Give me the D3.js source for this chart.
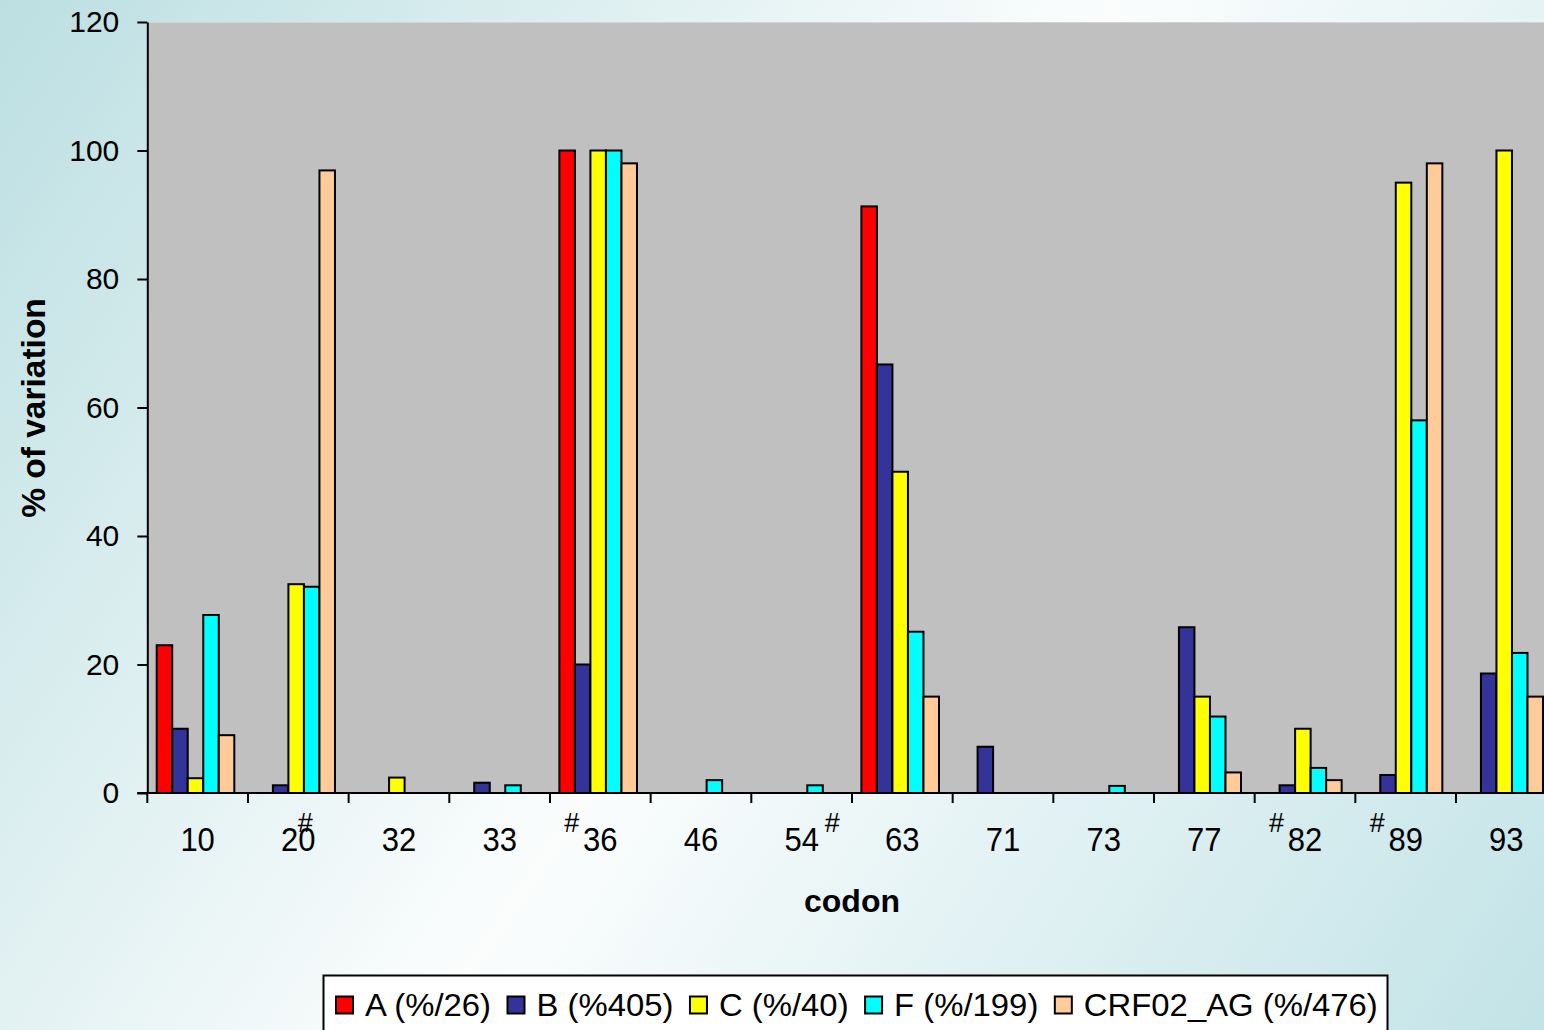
<!DOCTYPE html>
<html>
<head>
<meta charset="utf-8">
<script src="https://cdn.jsdelivr.net/npm/d3@7"></script>
<style>
html,body{margin:0;padding:0;overflow:hidden;}
svg{display:block;}
text{font-family:Arial,"Liberation Sans",sans-serif;fill:#000;}
</style>
</head>
<body>
<svg id="chart" width="1544" height="1030"></svg>
<script>
// ---- data ----
const categories = ["10","20","32","33","36","46","54","63","71","73","77","82","89","93"];
const seriesNames = ["A (%/26)","B (%405)","C (%/40)","F (%/199)","CRF02_AG (%/476)"];
const seriesColors = ["#ff0000","#333399","#ffff00","#00ffff","#ffcc99"];
const valuesA   = [23,   null, null, null, 100, null, null, 91.3, null, null, null, null, null, null];
const valuesB   = [10,   1.2,  null, 1.6,  20,  null, null, 66.7, 7.2,  null, 25.8, 1.2,  2.8,  18.6];
const valuesC   = [2.3,  32.5, 2.4,  null, 100, null, null, 50,   null, null, 15,   10,   95,   100];
const valuesF   = [27.7, 32.1, null, 1.2,  100, 2.0,  1.2,  25.1, null, 1.1,  11.9, 3.9,  58,   21.8];
const valuesCRF = [9,    96.9, null, null, 98,  null, null, 15,   null, null, 3.2,  2.0,  98,   15];
const yTicks = [0,20,40,60,80,100,120];
// codons flagged with "#" and where the mark sits relative to the label
const hashNotes = [
  {codon:"20", side:"top"},
  {codon:"36", side:"left"},
  {codon:"54", side:"right"},
  {codon:"82", side:"left"},
  {codon:"89", side:"left"}
];
const allSeries = [valuesA, valuesB, valuesC, valuesF, valuesCRF];

// ---- layout ----
const svg = d3.select("#chart");
const W = 1544, H = 1030;
const plotLeft = 147.3, plotTop = 22, plotBottom = 793;
const bandW = 100.67;
const plotRight = plotLeft + bandW * categories.length;

// background gradient
const defs = svg.append("defs");
const grad = defs.append("linearGradient").attr("id","bg")
  .attr("gradientUnits","userSpaceOnUse")
  .attr("x1",0).attr("y1",0).attr("x2",W).attr("y2",H);
grad.append("stop").attr("offset","0").attr("stop-color","#bcdfe2");
grad.append("stop").attr("offset","0.5").attr("stop-color","#fbfdfd");
grad.append("stop").attr("offset","1").attr("stop-color","#c2e3e7");
svg.append("rect").attr("width",W).attr("height",H).attr("fill","url(#bg)");

const x = d3.scaleBand().domain(categories).range([plotLeft, plotRight]).paddingInner(0).paddingOuter(0);
const xs = d3.scaleBand().domain(d3.range(seriesNames.length)).range([9.4, 9.4 + 77.6]);
const y = d3.scaleLinear().domain([0,120]).range([plotBottom, plotTop]);

// plot area
svg.append("rect").attr("x",plotLeft).attr("y",plotTop)
  .attr("width",plotRight-plotLeft).attr("height",plotBottom-plotTop)
  .attr("fill","#c0c0c0");
svg.append("line").attr("x1",plotLeft).attr("x2",plotRight).attr("y1",plotTop+0.5).attr("y2",plotTop+0.5)
  .attr("stroke","#d4d4d4").attr("stroke-width",1);

// bars
allSeries.forEach((vals, si) => {
  svg.append("g").selectAll("rect")
    .data(categories.map((c,i)=>({c, v: vals[i]})).filter(d => d.v != null))
    .join("rect")
    .attr("x", d => x(d.c) + xs(si))
    .attr("width", xs.bandwidth())
    .attr("y", d => y(d.v))
    .attr("height", d => y(0) - y(d.v))
    .attr("fill", seriesColors[si])
    .attr("stroke","#000").attr("stroke-width",2);
});

// y axis
const yAxis = svg.append("g").attr("transform",`translate(${plotLeft},0)`)
  .call(d3.axisLeft(y).tickValues(yTicks).tickSize(10).tickPadding(18).tickSizeOuter(0));
yAxis.select(".domain").attr("stroke","#000").attr("stroke-width",2);
yAxis.selectAll(".tick line").attr("stroke","#000").attr("stroke-width",2);
yAxis.selectAll(".tick text").attr("font-size",30).attr("font-family",'Arial,"Liberation Sans",sans-serif').attr("fill","#000");

// x axis line + boundary ticks
svg.append("line").attr("x1",plotLeft-10).attr("x2",plotRight).attr("y1",plotBottom).attr("y2",plotBottom)
  .attr("stroke","#000").attr("stroke-width",2);
svg.append("g").selectAll("line").data(categories).join("line")
  .attr("x1", d => x(d)).attr("x2", d => x(d))
  .attr("y1", plotBottom).attr("y2", plotBottom + 10)
  .attr("stroke","#000").attr("stroke-width",2);
// x labels
svg.append("g").selectAll("text").data(categories).join("text")
  .attr("x", d => x(d) + x.bandwidth()/2)
  .attr("y", 851)
  .attr("text-anchor","middle")
  .attr("font-size",31)
  .attr("transform", `translate(0,851) scale(1,1.06) translate(0,-851)`)
  .text(d => d);
// hash marks
svg.append("g").selectAll("text").data(hashNotes).join("text")
  .attr("x", d => {
    const cx = x(d.codon) + x.bandwidth()/2;
    if (d.side === "top") return cx + 7;
    if (d.side === "left") return cx - 21;
    return cx + 23;
  })
  .attr("y", 832)
  .attr("text-anchor", d => d.side === "top" ? "middle" : (d.side === "left" ? "end" : "start"))
  .attr("font-size",27)
  .text("#");

// axis titles
svg.append("text").attr("transform","translate(45,408) rotate(-90)")
  .attr("text-anchor","middle").attr("font-size",33.5).attr("font-weight","bold")
  .text("% of variation");
svg.append("text").attr("x",852).attr("y",912)
  .attr("text-anchor","middle").attr("font-size",32).attr("font-weight","bold")
  .text("codon");

// legend
const legend = svg.append("g");
legend.append("rect").attr("x",323.5).attr("y",975.5).attr("width",1064).attr("height",80)
  .attr("fill","#ffffff").attr("stroke","#000").attr("stroke-width",2);
const stretch = 1.06;
let lx = 336;
seriesNames.forEach((name, i) => {
  legend.append("rect").attr("x",lx).attr("y",996.5).attr("width",17).attr("height",17)
    .attr("fill",seriesColors[i]).attr("stroke","#000").attr("stroke-width",2);
  const tx = lx + 29;
  const t = legend.append("text").attr("x",0).attr("y",1016.5).attr("font-size",31)
    .attr("transform",`translate(${tx},0) scale(${stretch},1)`).text(name);
  lx += 29 + t.node().getComputedTextLength() * stretch + 16.5;
});
</script>
</body>
</html>
